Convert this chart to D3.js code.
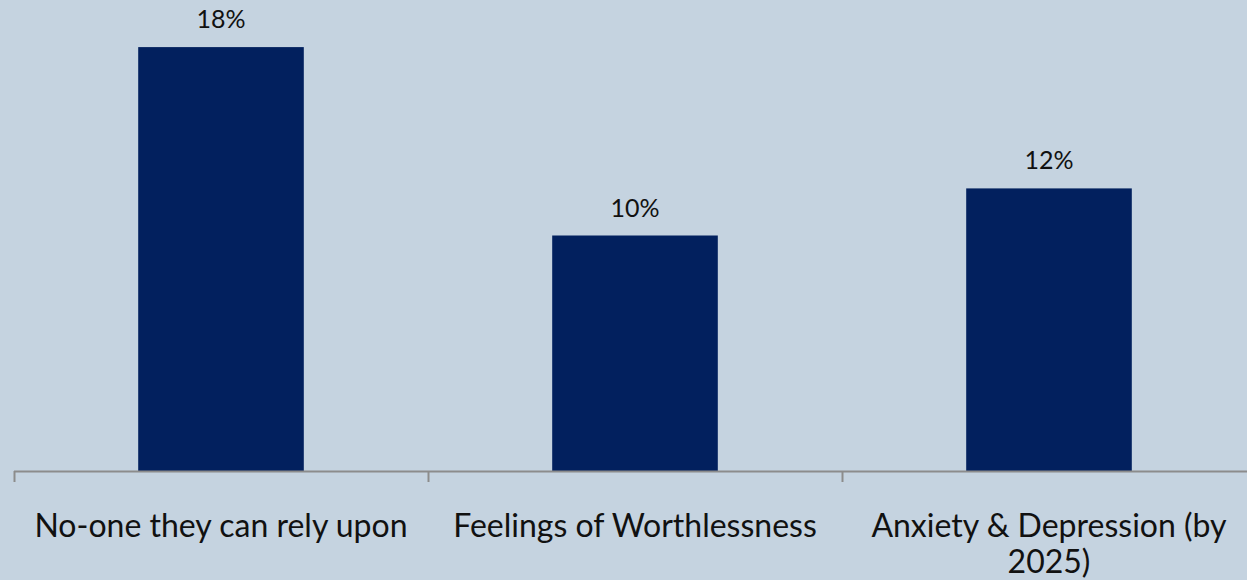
<!DOCTYPE html>
<html>
<head>
<meta charset="utf-8">
<script src="https://cdn.jsdelivr.net/npm/d3@7"></script>
<style>
  html, body { margin: 0; padding: 0; background: #c5d3e0; }
  svg { display: block; }
  text { font-family: Lato, "Open Sans", sans-serif; }
</style>
</head>
<body>
<svg id="chart" width="1247" height="580"></svg>
<script>
const categories = ["No-one they can rely upon", "Feelings of Worthlessness", "Anxiety & Depression (by 2025)"];
const values = [18, 10, 12];
const yTicks = [0, 20];

const W = 1247, H = 580;
const margin = { left: 14, top: 0, baseline: 471 };
const band = 414;

const svg = d3.select("#chart");
svg.append("rect").attr("width", W).attr("height", H).attr("fill", "#c5d3e0");

const x = d3.scaleBand()
  .domain(categories)
  .range([margin.left, margin.left + band * categories.length])
  .paddingInner(0.6)
  .paddingOuter(0.3);

const y = d3.scaleLinear()
  .domain(d3.extent(yTicks))
  .range([margin.baseline, margin.top]);

// bars
svg.append("g").selectAll("rect")
  .data(values)
  .join("rect")
  .attr("x", (d, i) => x(categories[i]))
  .attr("width", x.bandwidth())
  .attr("y", d => y(d))
  .attr("height", d => y(0) - y(d))
  .attr("fill", "#02205e");

// value labels
svg.append("g").selectAll("text")
  .data(values)
  .join("text")
  .attr("x", (d, i) => x(categories[i]) + x.bandwidth() / 2)
  .attr("y", d => y(d) - 19)
  .attr("text-anchor", "middle")
  .attr("font-size", 25)
  .attr("fill", "#111")
  .text(d => d + "%");

// category axis: baseline plus boundary ticks between categories
const axis = svg.append("g");
axis.append("line")
  .attr("x1", margin.left).attr("x2", W)
  .attr("y1", y(0) + 0.5).attr("y2", y(0) + 0.5)
  .attr("stroke", "#8c8c8c").attr("stroke-width", 2);

axis.selectAll("line.tick")
  .data(categories)
  .join("line")
  .attr("class", "tick")
  .attr("x1", (d, i) => margin.left + i * band + 0.5)
  .attr("x2", (d, i) => margin.left + i * band + 0.5)
  .attr("y1", y(0))
  .attr("y2", y(0) + 11)
  .attr("stroke", "#8c8c8c").attr("stroke-width", 2);

// category labels, wrapped to the band width
const fontSize = 32;
const labels = axis.selectAll("text.cat")
  .data(categories)
  .join("text")
  .attr("class", "cat")
  .attr("text-anchor", "middle")
  .attr("font-size", fontSize)
  .attr("fill", "#111");

labels.each(function(d) {
  const t = d3.select(this);
  const cx = x(d) + x.bandwidth() / 2;
  const words = d.split(" ");
  const lines = [];
  let line = [];
  const probe = t.append("tspan");
  words.forEach(w => {
    line.push(w);
    probe.text(line.join(" "));
    if (probe.node().getComputedTextLength() > 405 && line.length > 1) {
      line.pop();
      lines.push(line.join(" "));
      line = [w];
    }
  });
  lines.push(line.join(" "));
  probe.remove();
  lines.forEach((l, k) => {
    t.append("tspan")
      .attr("x", cx)
      .attr("y", 537 + k * 36)
      .text(l);
  });
});
</script>
</body>
</html>
